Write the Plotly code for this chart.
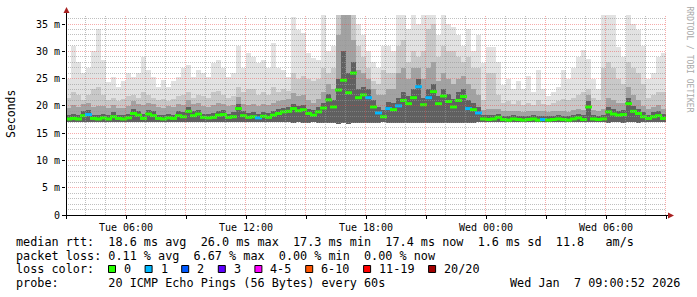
import math
import pandas as pd
import plotly.graph_objects as go

# ---------------- data (15-minute steps, Tue 03:00 -> Wed 09:00) ----------------
MEDIAN = [
    17.6, 17.7, 17.6, 18.2, 18.4, 17.7, 17.6, 17.8, 17.6, 18.0, 17.7, 17.6, 17.8, 18.6, 18.3, 17.7, 18.5, 18.2, 17.7, 17.6, 17.8, 17.7, 18.2, 18.0,
    19.0, 18.2, 18.5, 17.9, 17.8, 17.9, 18.3, 18.4, 17.9, 18.0, 19.5, 18.2, 17.9, 18.0, 17.8, 18.1, 17.9, 18.3, 18.6, 18.9, 19.0, 19.5, 19.1, 19.3,
    18.6, 18.3, 18.9, 19.6, 21.1, 19.8, 22.9, 24.7, 22.4, 26.0, 21.5, 22.0, 21.5, 19.8, 18.7, 18.0, 19.5, 19.3, 20.0, 21.0, 20.4, 21.5, 23.5, 20.2,
    21.5, 22.6, 20.4, 21.8, 20.8, 19.8, 21.0, 21.7, 19.5, 19.3, 18.7, 17.6, 17.5, 17.6, 17.9, 17.5, 17.4, 17.6, 17.5, 17.4, 17.5, 17.6, 17.4, 17.5,
    17.4, 17.5, 17.6, 17.5, 17.4, 17.6, 17.8, 17.5, 19.8, 17.6, 17.5, 17.6, 18.9, 18.5, 18.3, 18.4, 20.4, 19.0, 18.6, 18.0, 17.7, 18.0, 18.2, 17.7,
]
SMOKE_MAX = [
    25, 31, 28, 26, 27, 30, 34, 28.4, 24.3, 25.3, 23.5, 24.5, 26, 25.3, 26, 29, 26.6, 25.3, 23.5, 24.8, 23.5, 24.5, 25.3, 27,
    27.5, 25.3, 26.6, 26, 25.3, 27.8, 28.4, 26.9, 25.3, 26, 31, 27, 29.6, 29, 27.8, 28.4, 27, 31.5, 26.9, 26.6, 25.3, 36.3, 33.9, 33.4,
    29.7, 28.8, 28.4, 37, 30, 31, 37, 37, 37, 37, 35, 33, 30, 28, 27, 31, 31, 30, 37, 37, 34, 37, 35, 37,
    37, 37, 33, 37, 35, 34.5, 33, 31, 34, 30, 33, 27.8, 30.8, 30.8, 28, 23.8, 25, 23, 24.5, 23, 25.5, 22.5, 26.6, 23,
    21.8, 22.5, 23.5, 26.6, 25, 27, 29, 30.2, 28.5, 25, 23, 37, 37, 37, 30.8, 29, 37, 35, 33.9, 31, 25, 26, 29, 29.7,
]
SMOKE_P90 = [
    21.5, 22.5, 22, 21, 22, 23, 23.5, 22, 21, 21.5, 20.8, 21.2, 21.8, 22, 21.5, 22.5, 22, 21.5, 21, 21.3, 20.8, 21.2, 21.8, 22,
    22.5, 21.5, 22, 21.8, 21.5, 22.5, 22.8, 22, 21.5, 21.8, 23.5, 22.5, 23, 23, 22, 22.5, 22, 23.5, 22.5, 23, 22.8, 26, 25, 25.5,
    25, 24.5, 25, 27, 26, 27, 37, 37, 37, 37, 31, 29, 27, 24.5, 24, 26.5, 26, 26, 31, 32, 28, 30, 29, 30,
    34, 35, 29, 31, 30, 30, 29, 28, 29, 27, 27, 21, 26, 26, 22, 20.5, 20.8, 20.3, 20.8, 20.2, 20.6, 20.2, 21, 20.4,
    20.2, 20.5, 20.8, 21.3, 21, 21.5, 22, 22.5, 23, 21.5, 21, 27, 28, 27, 25, 24, 28, 27, 26, 24, 21.5, 22, 22.5, 22.5,
]
SMOKE_P75 = [
    19.6, 20.2, 19.8, 20.3, 20.6, 19.8, 20.0, 19.9, 19.6, 20.1, 19.7, 19.7, 20.0, 20.8, 20.4, 20.1, 20.6, 20.3, 19.8, 19.7, 19.9, 19.8, 20.3, 20.2,
    21.0, 20.3, 20.6, 20.0, 19.8, 20.2, 20.5, 20.4, 20.0, 20.1, 21.6, 20.4, 20.2, 20.3, 20.0, 20.3, 20.2, 20.6, 20.8, 21.1, 21.2, 22.3, 21.8, 22.0,
    21.0, 20.6, 21.3, 22.5, 24.0, 23.0, 33.0, 37.0, 37.0, 32.0, 26.5, 26.0, 25.0, 23.0, 22.0, 22.0, 23.0, 23.0, 26.0, 27.0, 25.0, 27.0, 27.0, 25.0,
    27.0, 28.0, 24.5, 26.0, 25.0, 24.0, 25.0, 25.5, 24.0, 23.0, 22.0, 19.3, 19.5, 19.5, 19.4, 19.0, 19.0, 19.1, 19.0, 18.9, 19.0, 19.0, 19.1, 19.0,
    18.9, 19.0, 19.1, 19.0, 18.9, 19.2, 19.5, 19.3, 22.0, 19.3, 19.1, 19.5, 21.5, 21.0, 20.5, 20.5, 23.5, 22.0, 21.0, 20.0, 19.5, 19.8, 20.1, 19.5,
]
SMOKE_P60 = [
    18.3, 18.5, 18.3, 19.0, 19.2, 18.4, 18.4, 18.6, 18.3, 18.8, 18.4, 18.3, 18.5, 19.4, 19.1, 18.5, 19.3, 19.0, 18.4, 18.3, 18.6, 18.4, 19.0, 18.8,
    19.8, 19.0, 19.3, 18.6, 18.5, 18.7, 19.1, 19.2, 18.6, 18.8, 20.3, 19.0, 18.7, 18.8, 18.5, 18.9, 18.7, 19.1, 19.4, 19.7, 19.8, 20.4, 20.0, 20.2,
    19.5, 19.2, 19.8, 20.6, 22.2, 21.0, 25.0, 30.0, 26.0, 28.0, 23.0, 23.5, 23.0, 21.0, 19.8, 19.2, 20.7, 20.5, 21.5, 22.5, 21.8, 23.0, 25.0, 21.5,
    23.0, 24.0, 21.8, 23.0, 22.2, 21.2, 22.5, 23.0, 21.0, 20.6, 19.8, 18.3, 18.3, 18.3, 18.6, 18.2, 18.1, 18.3, 18.2, 18.1, 18.2, 18.3, 18.1, 18.2,
    18.1, 18.2, 18.3, 18.2, 18.1, 18.3, 18.5, 18.3, 20.8, 18.3, 18.2, 18.4, 19.8, 19.4, 19.1, 19.2, 21.5, 19.9, 19.5, 18.8, 18.4, 18.8, 19.0, 18.5,
]
SMOKE_MIN = [
    17.0, 17.1, 17.0, 17.0, 17.1, 17.0, 17.0, 17.1, 17.0, 17.0, 17.1, 17.0, 17.0, 17.1, 17.0, 17.0, 17.1, 17.0, 17.0, 17.0, 17.1, 17.0, 17.0, 17.1,
    17.0, 17.1, 17.0, 17.0, 17.1, 17.0, 17.0, 17.0, 17.1, 17.0, 17.0, 17.1, 17.0, 17.0, 17.0, 17.1, 17.0, 17.0, 17.1, 17.0, 17.0, 16.9, 17.0, 16.9,
    16.9, 17.0, 16.9, 16.8, 16.9, 16.8, 16.7, 16.8, 16.7, 16.8, 16.9, 16.8, 16.9, 16.8, 16.9, 17.0, 16.9, 16.8, 16.9, 16.8, 16.9, 16.8, 16.9, 16.8,
    16.8, 16.9, 16.8, 16.9, 16.8, 16.9, 16.8, 16.9, 16.8, 16.9, 17.0, 17.0, 17.0, 17.0, 17.0, 17.1, 17.0, 17.0, 17.1, 17.0, 17.0, 17.1, 17.0, 17.0,
    17.0, 17.1, 17.0, 17.0, 17.1, 17.0, 17.0, 17.1, 17.0, 17.0, 17.1, 17.0, 16.9, 17.0, 17.0, 16.9, 17.0, 17.0, 16.9, 17.0, 17.0, 17.1, 17.0, 17.0,
]
LOSS = [
    0, 0, 0, 0, 1, 0, 0, 0, 0, 0, 0, 0, 0, 0, 0, 0, 0, 0, 0, 0, 0, 0, 0, 0,
    0, 0, 0, 0, 0, 0, 0, 0, 0, 0, 0, 0, 0, 0, 1, 0, 0, 0, 0, 0, 0, 0, 0, 0,
    0, 0, 0, 0, 0, 0, 0, 0, 0, 0, 0, 0, 1, 0, 1, 0, 1, 0, 1, 0, 0, 0, 1, 0,
    1, 0, 0, 0, 0, 0, 0, 0, 1, 0, 1, 0, 0, 0, 0, 0, 0, 0, 0, 0, 0, 0, 0, 1,
    0, 0, 0, 0, 0, 0, 0, 0, 0, 0, 0, 0, 0, 0, 0, 0, 0, 0, 0, 0, 0, 0, 0, 0,
]

LOSS_LIMITS = [0, 1, 2, 3, 5, 10, 19, 20]
LOSS_LABELS = ["0", "1", "2", "3", "4-5", "6-10", "11-19", "20/20"]
LOSS_COLORS = ["#26ff00", "#00b8ff", "#0059ff", "#5e00ff", "#ff00ff", "#ff5500", "#ff0000", "#a10000"]

Y_TICK_VALS = [0, 5, 10, 15, 20, 25, 30, 35]
Y_TICK_TEXT = ["0", "5 m", "10 m", "15 m", "20 m", "25 m", "30 m", "35 m"]
X_TICK_LABELS = ["", "Tue 06:00", "", "Tue 12:00", "", "Tue 18:00", "", "Wed 00:00", "", "Wed 06:00", ""]

LEGEND_LINES = [
    "median rtt:  18.6 ms avg  26.0 ms max  17.3 ms min  17.4 ms now  1.6 ms sd  11.8   am/s",
    "packet loss: 0.11 % avg  6.67 % max  0.00 % min  0.00 % now",
    "loss color:",
    "probe:       20 ICMP Echo Pings (56 Bytes) every 60s",
]
DATE_TEXT = "Wed Jan  7 09:00:52 2026"
Y_TITLE = "Seconds"
WATERMARK = "RRDTOOL / TOBI OETIKER"

# ---------------- geometry / style ----------------
W, H = 697, 297
L, R, T, B = 66, 31, 15, 82
PW, PH = W - L - R, H - T - B
YMAX = 36.65
T0 = pd.Timestamp("2026-01-06 03:00:00")
T1 = pd.Timestamp("2026-01-07 09:00:00")
STEP = pd.Timedelta(minutes=15)
SPAN_MS = (T1 - T0) / pd.Timedelta(milliseconds=1)
MONO = "DejaVu Sans Mono"
LEG_SIZE = 11.8
CHAR_W = 7.1


def px2x(px):
    return (px - L) / PW


def py2y(py):
    return (T + PH - py) / PH


def px2t(px):
    return T0 + pd.Timedelta(milliseconds=(px - L) / PW * SPAN_MS)


def loss_color(c):
    for lim, col in zip(LOSS_LIMITS, LOSS_COLORS):
        if c <= lim:
            return col
    return LOSS_COLORS[-1]


times = [T0 + STEP * i + STEP / 2 for i in range(len(MEDIAN))]
width_ms = STEP / pd.Timedelta(milliseconds=1)

fig = go.Figure()
for top, col in [(SMOKE_MAX, "#e2e2e2"), (SMOKE_P90, "#c8c8c8"),
                 (SMOKE_P75, "#a2a2a2"), (SMOKE_P60, "#606060")]:
    fig.add_trace(go.Bar(
        x=times, base=SMOKE_MIN, y=[t - b for t, b in zip(top, SMOKE_MIN)],
        width=width_ms, marker=dict(color=col, line=dict(width=0)),
        hoverinfo="skip", showlegend=False,
    ))

fig.add_trace(go.Scatter(
    x=times, y=MEDIAN, mode="markers",
    marker=dict(symbol="line-ew", size=5,
                line=dict(width=3, color=[loss_color(c) for c in LOSS])),
    hoverinfo="skip", showlegend=False,
))

shapes = []
# grid (drawn above the smoke, as rrdtool does)
n_hours = int((T1 - T0) / pd.Timedelta(hours=1))
for h in range(1, n_hours + 1):
    px = L + h * PW / n_hours - 0.5
    major = h % 3 == 0
    shapes.append(dict(type="line", xref="x", yref="paper", x0=px2t(px), x1=px2t(px), y0=0, y1=1,
                       line=dict(color="rgba(235,70,70,0.45)" if major else "rgba(150,150,150,0.6)",
                                 width=1, dash="1px,1px"), layer="above"))
for v in range(1, int(YMAX) + 1):
    py = math.floor(T + PH - v * PH / YMAX) + 0.5
    yv = (T + PH - py) / PH * YMAX
    major = v % 5 == 0
    shapes.append(dict(type="line", xref="paper", yref="y", x0=0, x1=1, y0=yv, y1=yv,
                       line=dict(color="rgba(235,70,70,0.45)" if major else "rgba(150,150,150,0.6)",
                                 width=1, dash="1px,1px"), layer="above"))
# axes with arrows
ax_col = "#000000"
arrow_col = "#a82020"
shapes.append(dict(type="line", xref="paper", yref="paper", x0=px2x(L + 0.5), x1=px2x(L + 0.5),
                   y0=py2y(T + PH + 0.5), y1=py2y(11), line=dict(color=ax_col, width=1), layer="above"))
shapes.append(dict(type="line", xref="paper", yref="paper", x0=px2x(L - 4), x1=px2x(L + PW + 6),
                   y0=py2y(T + PH + 0.5), y1=py2y(T + PH + 0.5), line=dict(color=ax_col, width=1), layer="above"))
ax0, ay0 = L + 0.5, 7
shapes.append(dict(type="path", xref="paper", yref="paper",
                   path=f"M {px2x(ax0-3)},{py2y(ay0+6)} L {px2x(ax0+3)},{py2y(ay0+6)} L {px2x(ax0)},{py2y(ay0)} Z",
                   fillcolor=arrow_col, line=dict(width=0), layer="above"))
bx0, by0 = L + PW + 8, T + PH + 0.5
shapes.append(dict(type="path", xref="paper", yref="paper",
                   path=f"M {px2x(bx0-6)},{py2y(by0-3)} L {px2x(bx0-6)},{py2y(by0+3)} L {px2x(bx0)},{py2y(by0)} Z",
                   fillcolor=arrow_col, line=dict(width=0), layer="above"))

annotations = []


def txt(s, x, y, size=LEG_SIZE, xanchor="left", color="#000000", angle=0):
    annotations.append(dict(text=s.replace(" ", "\u00a0"), xref="paper", yref="paper",
                            x=px2x(x), y=py2y(y), xanchor=xanchor, yanchor="middle",
                            showarrow=False, borderpad=0, textangle=angle,
                            font=dict(family=MONO, size=size, color=color)))


line_y = [242, 255.5, 269, 283]
for s, y in zip(LEGEND_LINES, line_y):
    txt(s, 15, y)
txt(DATE_TEXT, 681, line_y[3], xanchor="right")
txt(Y_TITLE, 11, 114, size=11.5, angle=-90)
annotations[-1]["xanchor"] = "center"
txt(WATERMARK, 688.5, 59, size=8, color="#a8a8a8", angle=90)
annotations[-1]["xanchor"] = "center"

# loss colour legend boxes
bx = 108.5
for lab, col in zip(LOSS_LABELS, LOSS_COLORS):
    shapes.append(dict(type="rect", xref="paper", yref="paper",
                       x0=px2x(bx), x1=px2x(bx + 7), y0=py2y(265.5), y1=py2y(272.5),
                       fillcolor=col, line=dict(color="#000000", width=1)))
    txt(lab, bx + 14.5, line_y[2])
    bx += 14.5 + len(lab) * CHAR_W + 15

fig.update_layout(
    width=W, height=H, margin=dict(l=L, r=R, t=T, b=B, pad=0),
    paper_bgcolor="#ffffff", plot_bgcolor="#ffffff",
    barmode="overlay", bargap=0, showlegend=False,
    shapes=shapes, annotations=annotations,
    xaxis=dict(type="date", range=[T0, T1], tickmode="array",
               tickvals=[T0 + pd.Timedelta(hours=3 * k) for k in range(len(X_TICK_LABELS))],
               ticktext=X_TICK_LABELS, ticks="outside", ticklen=3, tickcolor="#000000",
               tickfont=dict(family=MONO, size=10, color="#000000"),
               showgrid=False, zeroline=False, showline=False, fixedrange=True),
    yaxis=dict(range=[0, YMAX], tickmode="array", tickvals=Y_TICK_VALS, ticktext=Y_TICK_TEXT,
               ticks="outside", ticklen=3, tickcolor="#000000",
               tickfont=dict(family=MONO, size=10, color="#000000"),
               showgrid=False, zeroline=False, showline=False, fixedrange=True),
)

fig.write_html("out.html")
